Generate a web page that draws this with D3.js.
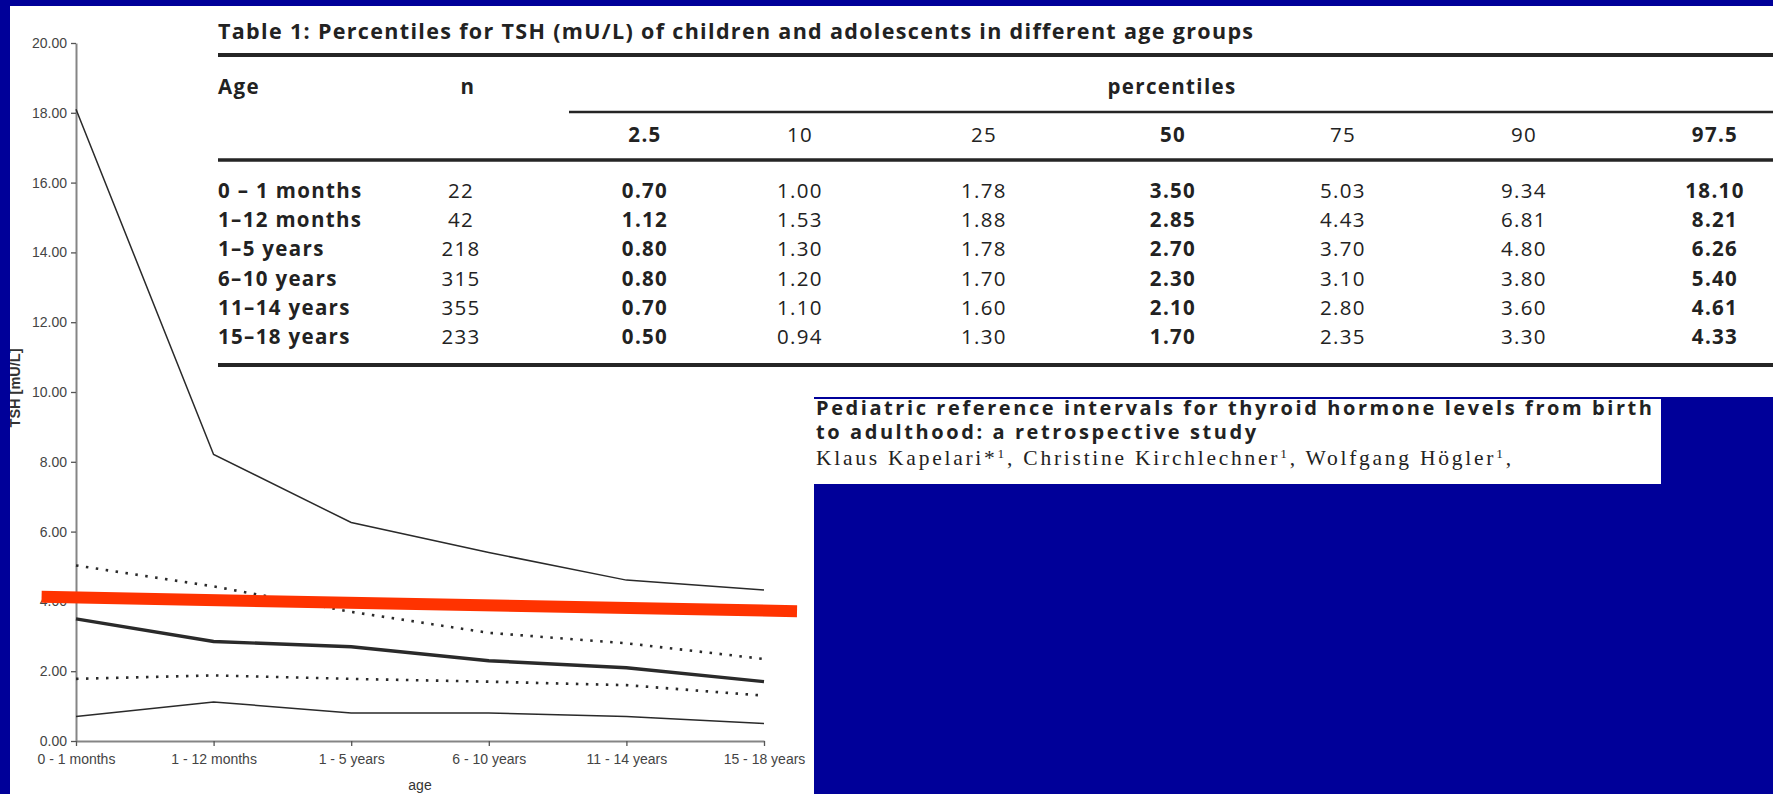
<!DOCTYPE html>
<html>
<head>
<meta charset="utf-8">
<script src="https://cdn.jsdelivr.net/npm/d3@7"></script>
<style>
  html, body { margin: 0; padding: 0; background: #000099; }
  svg { display: block; }
</style>
</head>
<body>
<div id="slide"></div>
<script>
////////////////////////////////////////////////////////////////////
////  Data

// age groups on the x axis of the graph
var ageGroups = ["0 - 1 months", "1 - 12 months", "1 - 5 years", "6 - 10 years", "11 - 14 years", "15 - 18 years"];
// the same groups as printed in the table
var tableAges = ["0 – 1 months", "1–12 months", "1–5 years", "6–10 years", "11–14 years", "15–18 years"];
var nCounts = [22, 42, 218, 315, 355, 233];
var percentileLabels = ["2.5", "10", "25", "50", "75", "90", "97.5"];
var boldPercentiles = ["2.5", "50", "97.5"];

// TSH (mU/L) per age group, one array per percentile
var p2_5  = [0.70, 1.12, 0.80, 0.80, 0.70, 0.50];
var p10   = [1.00, 1.53, 1.30, 1.20, 1.10, 0.94];
var p25   = [1.78, 1.88, 1.78, 1.70, 1.60, 1.30];
var p50   = [3.50, 2.85, 2.70, 2.30, 2.10, 1.70];
var p75   = [5.03, 4.43, 3.70, 3.10, 2.80, 2.35];
var p90   = [9.34, 6.81, 4.80, 3.80, 3.60, 3.30];
var p97_5 = [18.10, 8.21, 6.26, 5.40, 4.61, 4.33];

var yTicks = [0, 2, 4, 6, 8, 10, 12, 14, 16, 18, 20];

// red marker drawn across the graph: age index and TSH at both ends
var redLineAt  = [-0.25, 5.24];
var redLineTsh = [4.13, 3.72];

var tableTitle = "Table 1: Percentiles for TSH (mU/L) of children and adolescents in different age groups";
var paperTitle = ["Pediatric reference intervals for thyroid hormone levels from birth", "to adulthood: a retrospective study"];
var paperAuthors = ["Klaus Kapelari*", "Christine Kirchlechner", "Wolfgang Högler"];

////////////////////////////////////////////////////////////////////
////  Slide background

var W = 1773, H = 794;
var svg = d3.select("#slide").append("svg")
    .attr("width", W)
    .attr("height", H);

svg.append("rect").attr("width", W).attr("height", H).attr("fill", "#000099");
// white paper cut-outs
svg.append("rect").attr("x", 10).attr("y", 6).attr("width", 804).attr("height", H - 6).attr("fill", "#fff");
svg.append("rect").attr("x", 10).attr("y", 6).attr("width", W - 10).attr("height", 391).attr("fill", "#fff");
svg.append("rect").attr("x", 814).attr("y", 399).attr("width", 847).attr("height", 85).attr("fill", "#fff");

svg.append("clipPath").attr("id", "paper")
  .append("rect").attr("x", 10).attr("y", 6).attr("width", 804).attr("height", H - 6);

////////////////////////////////////////////////////////////////////
////  Graph

var chart = svg.append("g").attr("clip-path", "url(#paper)");
var axisFont = "'Liberation Sans', Arial, sans-serif";

var x = d3.scaleLinear()
  .domain([0, ageGroups.length - 1])
  .range([76, 764]);
var y = d3.scaleLinear()
  .domain([0, 20])
  .range([741, 43]);

var yAxis = chart.append("g")
  .attr("transform", "translate(76,0)")
  .call(d3.axisLeft(y).tickValues(yTicks).tickFormat(d3.format(".2f"))
    .tickSize(5).tickSizeOuter(0).tickPadding(4));

var xAxis = chart.append("g")
  .attr("transform", "translate(0,741)")
  .call(d3.axisBottom(x).tickValues(d3.range(ageGroups.length))
    .tickFormat(function(i) { return ageGroups[i]; })
    .tickSize(5).tickSizeOuter(0).tickPadding(8));

[yAxis, xAxis].forEach(function(a) {
  a.select(".domain").attr("stroke", "#858585").attr("stroke-width", 2);
  a.selectAll(".tick line").attr("stroke", "#555").attr("stroke-width", 1.3);
  a.selectAll(".tick text")
    .attr("fill", "#444")
    .style("font-family", axisFont)
    .style("font-size", "14px");
});

chart.append("text")
  .attr("x", 420).attr("y", 790)
  .attr("text-anchor", "middle")
  .attr("fill", "#333")
  .style("font-family", axisFont).style("font-size", "14px")
  .text("age");

chart.append("text")
  .attr("transform", "translate(20,388) rotate(-90)")
  .attr("text-anchor", "middle")
  .attr("fill", "#333")
  .style("font-family", axisFont).style("font-size", "14.5px").style("font-weight", "bold")
  .text("TSH [mU/L]");

// percentile curves, 97.5 at the top down to 2.5
var curves = [
  {values: p97_5, width: 1.5, dash: null},
  {values: p75,   width: 2.6, dash: "2.5,7.5"},
  {values: p50,   width: 3.4, dash: null},
  {values: p25,   width: 2.6, dash: "2.5,7.5"},
  {values: p2_5,  width: 1.5, dash: null}
];

var line = d3.line()
  .x(function(d, i) { return x(i); })
  .y(function(d) { return y(d); });

chart.selectAll("path.curve")
  .data(curves)
  .enter()
  .append("path")
    .attr("class", "curve")
    .attr("fill", "none")
    .attr("stroke", "#2a2a2a")
    .attr("stroke-width", function(d) { return d.width; })
    .attr("stroke-dasharray", function(d) { return d.dash; })
    .attr("d", function(d) { return line(d.values); });

chart.append("path")
  .datum(d3.zip(redLineAt, redLineTsh))
  .attr("fill", "none")
  .attr("stroke", "#ff3300")
  .attr("stroke-width", 12)
  .attr("d", d3.line()
    .x(function(d) { return x(d[0]); })
    .y(function(d) { return y(d[1]); }));

////////////////////////////////////////////////////////////////////
////  Table

var tableFont = "'Open Sans', Lato, sans-serif";
var ink = "#222";
var fs = 20.5;     // table font size
var table = svg.append("g")
  .style("font-family", tableFont)
  .style("font-size", fs + "px")
  .attr("fill", ink);

// adjust the letter spacing so a text spans the given width
function fitSpacing(sel, target) {
  var node = sel.node();
  var w = node.getComputedTextLength();
  var ls = (target - w) / (node.getNumberOfChars() - 1);
  sel.style("letter-spacing", ls + "px");
  return ls;
}

var title = table.append("text")
  .attr("x", 218).attr("y", 39)
  .style("font-weight", "bold")
  .style("font-size", "21.5px")
  .text(tableTitle);
var tls = fitSpacing(title, 1035);

var rules = [
  {x0: 218, y: 55,  w: 4},
  {x0: 569, y: 112, w: 2.5},
  {x0: 218, y: 160, w: 3.5},
  {x0: 218, y: 365, w: 4}
];
table.selectAll("line.rule")
  .data(rules)
  .enter()
  .append("line")
    .attr("class", "rule")
    .attr("x1", function(d) { return d.x0; })
    .attr("x2", W)
    .attr("y1", function(d) { return d.y; })
    .attr("y2", function(d) { return d.y; })
    .attr("stroke", "#252525")
    .attr("stroke-width", function(d) { return d.w; });

// column centres of the percentile columns
var col = d3.scaleOrdinal()
  .domain(percentileLabels)
  .range([645, 800, 984, 1173, 1343, 1524, 1715]);
var row = d3.scaleLinear()
  .domain([0, tableAges.length - 1])
  .range([198, 344]);

function cell(txt, cx, cy, bold, anchor) {
  return table.append("text")
    .attr("x", cx).attr("y", cy)
    .attr("text-anchor", anchor || "middle")
    .style("letter-spacing", tls + "px")
    .style("font-weight", bold ? "bold" : "normal")
    .text(txt);
}

cell("Age", 218, 94, true, "start");
cell("n", 468, 94, true);
cell("percentiles", 1172, 94, true);

percentileLabels.forEach(function(p) {
  cell(p, col(p), 142, boldPercentiles.indexOf(p) >= 0);
});

var columns = [p2_5, p10, p25, p50, p75, p90, p97_5];
var fmt = d3.format(".2f");

tableAges.forEach(function(age, i) {
  cell(age, 218, row(i), true, "start");
  cell(nCounts[i], 461, row(i), false);
  columns.forEach(function(vals, j) {
    var p = percentileLabels[j];
    cell(fmt(vals[i]), col(p), row(i), boldPercentiles.indexOf(p) >= 0);
  });
});

////////////////////////////////////////////////////////////////////
////  Citation

var cite = svg.append("g").attr("fill", ink)
  .style("font-size", "20px");

var t1 = cite.append("text")
  .attr("x", 816).attr("y", 415)
  .style("font-family", tableFont).style("font-weight", "bold")
  .text(paperTitle[0]);
var cls = fitSpacing(t1, 836);

cite.append("text")
  .attr("x", 816).attr("y", 439)
  .style("font-family", tableFont).style("font-weight", "bold")
  .style("letter-spacing", cls + "px")
  .text(paperTitle[1]);

var authors = cite.append("text")
  .attr("x", 816).attr("y", 465)
  .style("font-family", "'Liberation Serif', 'Times New Roman', serif")
  .style("font-size", "21.5px");
paperAuthors.forEach(function(a, i) {
  authors.append("tspan").attr("dy", i === 0 ? 0 : 7).text((i === 0 ? "" : ", ") + a);
  authors.append("tspan").attr("dy", -7).style("font-size", "0.62em").text("1");
});
authors.append("tspan").attr("dy", 7).text(",");
fitSpacing(authors, 695);

</script>
</body>
</html>
